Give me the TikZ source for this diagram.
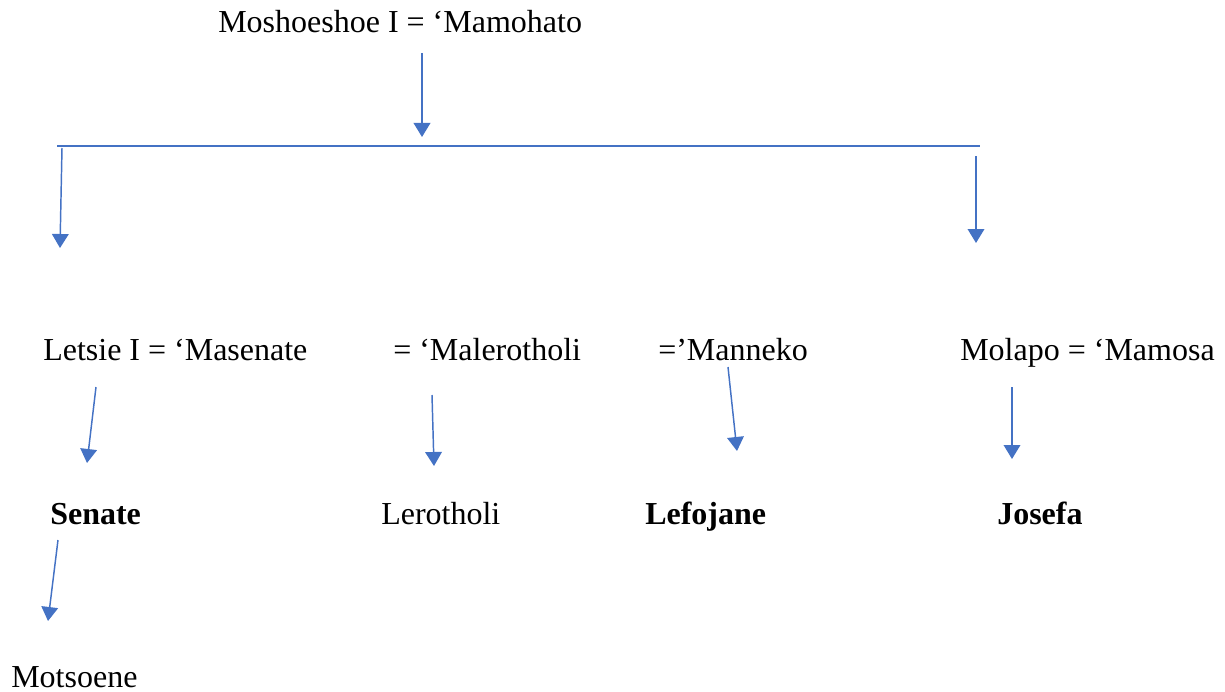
\documentclass[tikz,border=0pt]{standalone}
\usepackage{fontspec}
\setmainfont{Liberation Serif}
\usetikzlibrary{arrows.meta}
\definecolor{linkblue}{HTML}{4472C4}
\tikzstyle{person}=[anchor=base west, inner sep=0pt, font=\fontsize{24}{28}\selectfont]
\tikzstyle{heir}=[person, font=\fontsize{24}{28}\selectfont\bfseries]
\tikzstyle{descent}=[draw=linkblue, line width=1.1pt, -{Triangle[length=10.5pt,width=12.5pt]}]
\tikzstyle{bar}=[draw=linkblue, line width=1.1pt]

\begin{document}
\begin{tikzpicture}[x=0.75pt,y=-0.75pt]
\useasboundingbox (0,0) rectangle (1225,692);
\draw (218,33) node[person] (M1) {Moshoeshoe I = ‘Mamohato};
\draw (43,360) node[person] (L1) {Letsie I = ‘Masenate};
\draw (393,360) node[person] (W2) {= ‘Malerotholi};
\draw (658,360) node[person] (W3) {=’Manneko};
\draw (960,360) node[person] (MO) {Molapo = ‘Mamosa};
\draw (50,524) node[heir] (SE) {Senate};
\draw (381,524) node[person] (LE) {Lerotholi};
\draw (645,524) node[heir] (LF) {Lefojane};
\draw (997,524) node[heir] (JO) {Josefa};
\draw (11,687) node[person] (MT) {Motsoene};

\coordinate (barL) at (57,146);
\coordinate (barR) at (980,146);
\coordinate (m1s) at (422,53);   \coordinate (m1e) at (422,137);
\coordinate (bls) at (62,148);   \coordinate (ble) at (60,248);
\coordinate (brs) at (976,156);  \coordinate (bre) at (976,243);
\coordinate (l1s) at (96,387);   \coordinate (l1e) at (87,463);
\coordinate (w2s) at (432,395);  \coordinate (w2e) at (434,466);
\coordinate (w3s) at (728,367);  \coordinate (w3e) at (737,451);
\coordinate (mos) at (1012,387); \coordinate (moe) at (1012,459);
\coordinate (ses) at (58,540);   \coordinate (see) at (48,621);

\draw[bar] (barL) -- (barR);
\draw[descent] (m1s) -- (m1e);
\draw[descent] (bls) -- (ble);
\draw[descent] (brs) -- (bre);
\draw[descent] (l1s) -- (l1e);
\draw[descent] (w2s) -- (w2e);
\draw[descent] (w3s) -- (w3e);
\draw[descent] (mos) -- (moe);
\draw[descent] (ses) -- (see);
\end{tikzpicture}
\end{document}
